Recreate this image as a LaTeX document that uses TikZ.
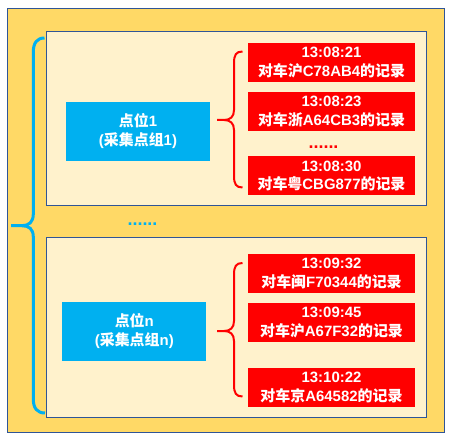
\documentclass[tikz,border=0pt]{standalone}
\usepackage{fontspec}
\setmainfont{Liberation Sans}
\newfontfamily\cjk{Noto Sans CJK SC}
\newcommand{\zh}[1]{{\cjk\bfseries #1}}
\definecolor{gold}{HTML}{FFD966}
\definecolor{cream}{HTML}{FFF2CC}
\definecolor{frame}{HTML}{2F5597}
\definecolor{sky}{HTML}{00B0F0}
\definecolor{rred}{HTML}{FF0000}
\tikzset{
  txt/.style={text=white, font=\bfseries\fontsize{15}{19}\selectfont, align=center, inner sep=0pt},
  bluebox/.style={txt, fill=sky, minimum width=144bp, minimum height=59bp},
  redbox/.style={txt, fill=rred, minimum width=167bp, minimum height=39bp},
  panel/.style={fill=cream, draw=frame, line width=1bp},
  redbrace/.style={draw=rred, line width=2bp},
  bluebrace/.style={draw=sky, line width=3bp},
  dots/.style={font=\bfseries\fontsize{18}{18}\selectfont, inner sep=0pt, anchor=base}
}
\begin{document}
\begin{tikzpicture}[x=1bp,y=-1bp]
\useasboundingbox (0,0) rectangle (453,441);
\fill[white] (0,0) rectangle (453,441);
\draw[fill=gold, draw=frame, line width=1bp] (7.5,8.5) rectangle (444.5,432.5);
\draw[panel] (46.5,31.5) rectangle (426,206);
\draw[panel] (46.5,237.5) rectangle (426.5,417);

% group 1
\node[bluebox] (p1) at (138,131.3) {\zh{点位}1\\(\zh{采集点组}1)};
\node[redbox] (r11) at (331.5,62.7) {13:08:21\\\zh{对车沪}C78AB4\zh{的记录}};
\node[redbox] (r12) at (331.5,111.2) {13:08:23\\\zh{对车浙}A64CB3\zh{的记录}};
\node[redbox] (r13) at (331.5,176) {13:08:30\\\zh{对车粤}CBG877\zh{的记录}};
\node[dots, text=rred] (d1) at (323.5,149) {......};

% group n
\node[bluebox] (pn) at (134.3,331.3) {\zh{点位}n\\(\zh{采集点组}n)};
\node[redbox] (rn1) at (331.5,273.3) {13:09:32\\\zh{对车闽}F70344\zh{的记录}};
\node[redbox] (rn2) at (331.5,322.3) {13:09:45\\\zh{对车沪}A67F32\zh{的记录}};
\node[redbox] (rn3) at (331.5,387.3) {13:10:22\\\zh{对车京}A64582\zh{的记录}};

\node[dots, text=sky] (d0) at (142.5,226) {......};

% red braces
\coordinate (t1) at (217,120);
\coordinate (t1a) at (242.5,51.5);
\coordinate (t1b) at (242.5,187.5);
\draw[redbrace] (t1a) .. controls (236,51.5) and (234,55) .. (234,63)
  -- (234,110) .. controls (234,117) and (230,120) .. (224,120) -- (t1);
\draw[redbrace] (t1b) .. controls (236,187.5) and (234,184) .. (234,176)
  -- (234,130) .. controls (234,123) and (230,120) .. (224,120);

\coordinate (tn) at (217,331);
\coordinate (tna) at (242.5,263);
\coordinate (tnb) at (242.5,396.5);
\draw[redbrace] (tna) .. controls (236,263) and (234,266.5) .. (234,274.5)
  -- (234,321) .. controls (234,328) and (230,331) .. (224,331) -- (tn);
\draw[redbrace] (tnb) .. controls (236,396.5) and (234,393) .. (234,385)
  -- (234,341) .. controls (234,334) and (230,331) .. (224,331);

% blue brace
\coordinate (b0) at (11,225.7);
\coordinate (ba) at (44.5,38);
\coordinate (bb) at (45,413);
\draw[bluebrace] (ba) .. controls (37,38) and (33.3,43) .. (33.3,52)
  -- (33.3,214) .. controls (33.3,222) and (29,225.7) .. (22,225.7) -- (b0);
\draw[bluebrace] (bb) .. controls (37,413) and (33.3,408) .. (33.3,399)
  -- (33.3,237) .. controls (33.3,229) and (29,225.7) .. (22,225.7);
\end{tikzpicture}
\end{document}
